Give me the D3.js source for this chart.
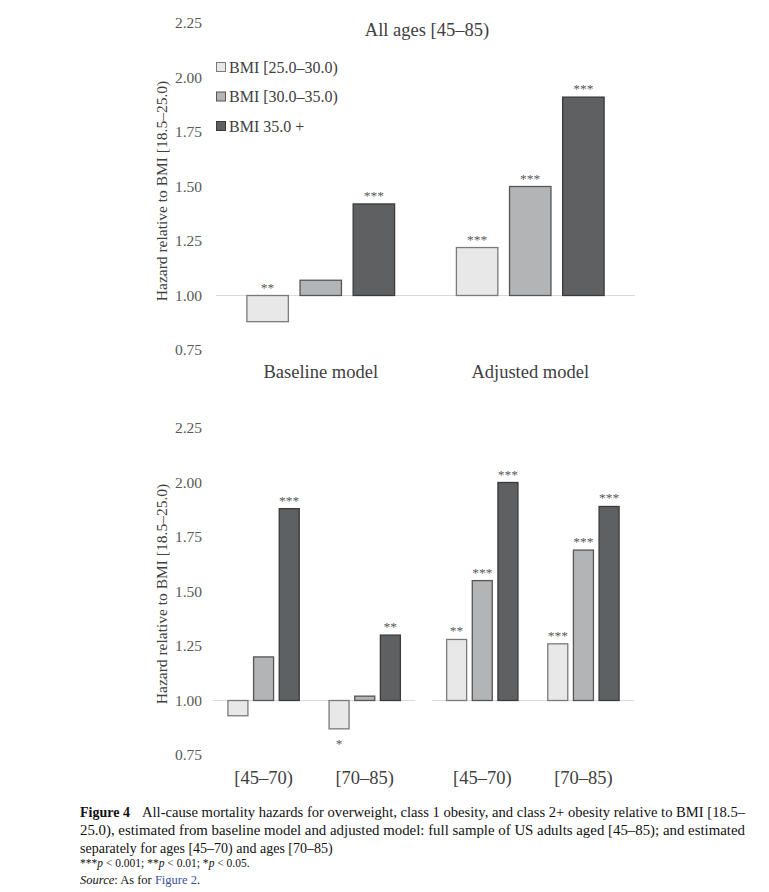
<!DOCTYPE html>
<html>
<head>
<meta charset="utf-8">
<script src="https://cdn.jsdelivr.net/npm/d3@7"></script>
<style>
  body { margin: 0; background: #fff; }
  svg { display: block; font-family: "Liberation Serif", "Times New Roman", serif; }
</style>
</head>
<body>
<script>
// series (BMI classes) and y ticks
var series = ["BMI [25.0–30.0)", "BMI [30.0–35.0)", "BMI 35.0 +"];
var yTicks = [0.75, 1.00, 1.25, 1.50, 1.75, 2.00, 2.25];

// top chart: all ages
var topCategories = ["Baseline model", "Adjusted model"];
var topValues = [[0.88, 1.07, 1.42], [1.22, 1.50, 1.91]];
var topStars = [["**", "", "***"], ["***", "***", "***"]];

// bottom chart: by age, baseline panel then adjusted panel
var bottomPanels = ["Baseline model", "Adjusted model"];
var bottomCategories = ["[45–70)", "[70–85)"];
var bottomValues = [
  [[0.93, 1.20, 1.88], [0.87, 1.02, 1.30]],
  [[1.28, 1.55, 2.00], [1.26, 1.69, 1.89]]
];
var bottomStars = [
  [["", "", "***"], ["*", "", "**"]],
  [["**", "***", "***"], ["***", "***", "***"]]
];

var fills = ["#e7e8e7", "#b3b4b5", "#5f6062"];
var strokes = ["#7a7a7a", "#555555", "#3a3a3a"];

var svg = d3.select("body").append("svg")
  .attr("width", 769)
  .attr("height", 892);

function drawYAxis(y, titleCenter) {
  var ax = svg.append("g")
    .attr("transform", "translate(216,0)")
    .call(d3.axisLeft(y).tickValues(yTicks).tickFormat(d3.format(".2f")).tickSize(0).tickPadding(14));
  ax.select(".domain").remove();
  ax.selectAll("text")
    .style("font-family", "Liberation Serif, serif")
    .style("font-size", "15.5px")
    .attr("fill", "#595959");

  svg.append("text")
    .attr("transform", "translate(167," + titleCenter + ") rotate(-90)")
    .attr("text-anchor", "middle")
    .style("font-size", "15.5px")
    .attr("fill", "#404040")
    .text("Hazard relative to BMI [18.5–25.0)");
}

function drawPanel(categories, values, stars, xRange, y, labelY, negBelow) {
  var x = d3.scaleBand().domain(categories).range(xRange).padding(0);
  var bw = x.bandwidth();
  var inner = d3.scaleBand().domain(series).range([0, bw * 0.705]).paddingInner(0.22);
  var off = (bw - bw * 0.705) / 2;

  svg.append("line")
    .attr("x1", xRange[0]).attr("x2", xRange[1])
    .attr("y1", y(1)).attr("y2", y(1))
    .attr("stroke", "#d9d9d9")
    .attr("stroke-width", 1);

  categories.forEach(function(cat, ci) {
    var g = svg.append("g")
      .attr("transform", "translate(" + (x(cat) + off) + ",0)");

    g.selectAll("rect")
      .data(values[ci])
      .enter().append("rect")
      .attr("x", function(d, i) { return inner(series[i]); })
      .attr("y", function(d) { return y(Math.max(d, 1)); })
      .attr("width", inner.bandwidth())
      .attr("height", function(d) { return Math.abs(y(d) - y(1)); })
      .attr("fill", function(d, i) { return fills[i]; })
      .attr("stroke", function(d, i) { return strokes[i]; })
      .attr("stroke-width", 1.3);

    g.selectAll("text.star")
      .data(values[ci])
      .enter().append("text")
      .attr("class", "star")
      .attr("text-anchor", "middle")
      .attr("x", function(d, i) { return inner(series[i]) + inner.bandwidth() / 2; })
      .attr("y", function(d) {
        if (d < 1 && negBelow) return y(d) + 19;
        return y(Math.max(d, 1)) - 4;
      })
      .style("font-size", "13.5px")
      .attr("fill", "#595959")
      .text(function(d, i) { return stars[ci][i]; });

    svg.append("text")
      .attr("x", x(cat) + bw / 2)
      .attr("y", labelY)
      .attr("text-anchor", "middle")
      .style("font-size", "18.5px")
      .attr("fill", "#404040")
      .text(cat);
  });
}

// ---- top chart
var yTop = d3.scaleLinear().domain([0.75, 2.25]).range([350, 23]);
drawYAxis(yTop, 191);
drawPanel(topCategories, topValues, topStars, [216, 635], yTop, 378, false);

svg.append("text")
  .attr("x", 427)
  .attr("y", 36)
  .attr("text-anchor", "middle")
  .style("font-size", "18.5px")
  .attr("fill", "#404040")
  .text("All ages [45–85)");

var legend = svg.append("g");
series.forEach(function(s, i) {
  var cy = 67 + i * 29.5;
  legend.append("rect")
    .attr("x", 216.5).attr("y", cy - 4.5)
    .attr("width", 9).attr("height", 9)
    .attr("fill", fills[i])
    .attr("stroke", strokes[i])
    .attr("stroke-width", 1);
  legend.append("text")
    .attr("x", 229).attr("y", cy + 5.5)
    .style("font-size", "16px")
    .attr("fill", "#404040")
    .text(s);
});

// ---- bottom chart
var yBottom = d3.scaleLinear().domain([0.75, 2.25]).range([755, 428]);
drawYAxis(yBottom, 594);
var panelX = d3.scaleBand().domain(bottomPanels).range([213, 634]).paddingInner(0.075);
bottomPanels.forEach(function(p, pi) {
  drawPanel(bottomCategories, bottomValues[pi], bottomStars[pi],
    [panelX(p), panelX(p) + panelX.bandwidth()], yBottom, 784, true);
});

// ---- caption
var cap = svg.append("g").attr("fill", "#111");
cap.append("text")
  .attr("x", 80).attr("y", 817)
  .style("font-size", "14px")
  .style("font-weight", "bold")
  .text("Figure 4");
cap.append("text")
  .attr("x", 142).attr("y", 817)
  .style("font-size", "14px")
  .attr("textLength", 603)
  .attr("lengthAdjust", "spacingAndGlyphs")
  .text("All-cause mortality hazards for overweight, class 1 obesity, and class 2+ obesity relative to BMI [18.5–");
cap.append("text")
  .attr("x", 80).attr("y", 835)
  .style("font-size", "14px")
  .attr("textLength", 665)
  .attr("lengthAdjust", "spacingAndGlyphs")
  .text("25.0), estimated from baseline model and adjusted model: full sample of US adults aged [45–85); and estimated");
cap.append("text")
  .attr("x", 80).attr("y", 852.5)
  .style("font-size", "14px")
  .text("separately for ages [45–70) and ages [70–85)");

var pLine = cap.append("text")
  .attr("x", 80).attr("y", 867)
  .style("font-size", "11.5px");
[["***", false], ["p", true], [" < 0.001; **", false], ["p", true], [" < 0.01; *", false], ["p", true], [" < 0.05.", false]]
  .forEach(function(t) {
    pLine.append("tspan").style("font-style", t[1] ? "italic" : "normal").text(t[0]);
  });

var src = cap.append("text")
  .attr("x", 80).attr("y", 883.5)
  .style("font-size", "12.5px");
src.append("tspan").style("font-style", "italic").text("Source");
src.append("tspan").text(": As for ");
src.append("tspan").attr("fill", "#3b4fa8").text("Figure 2");
src.append("tspan").text(".");
</script>
</body>
</html>
